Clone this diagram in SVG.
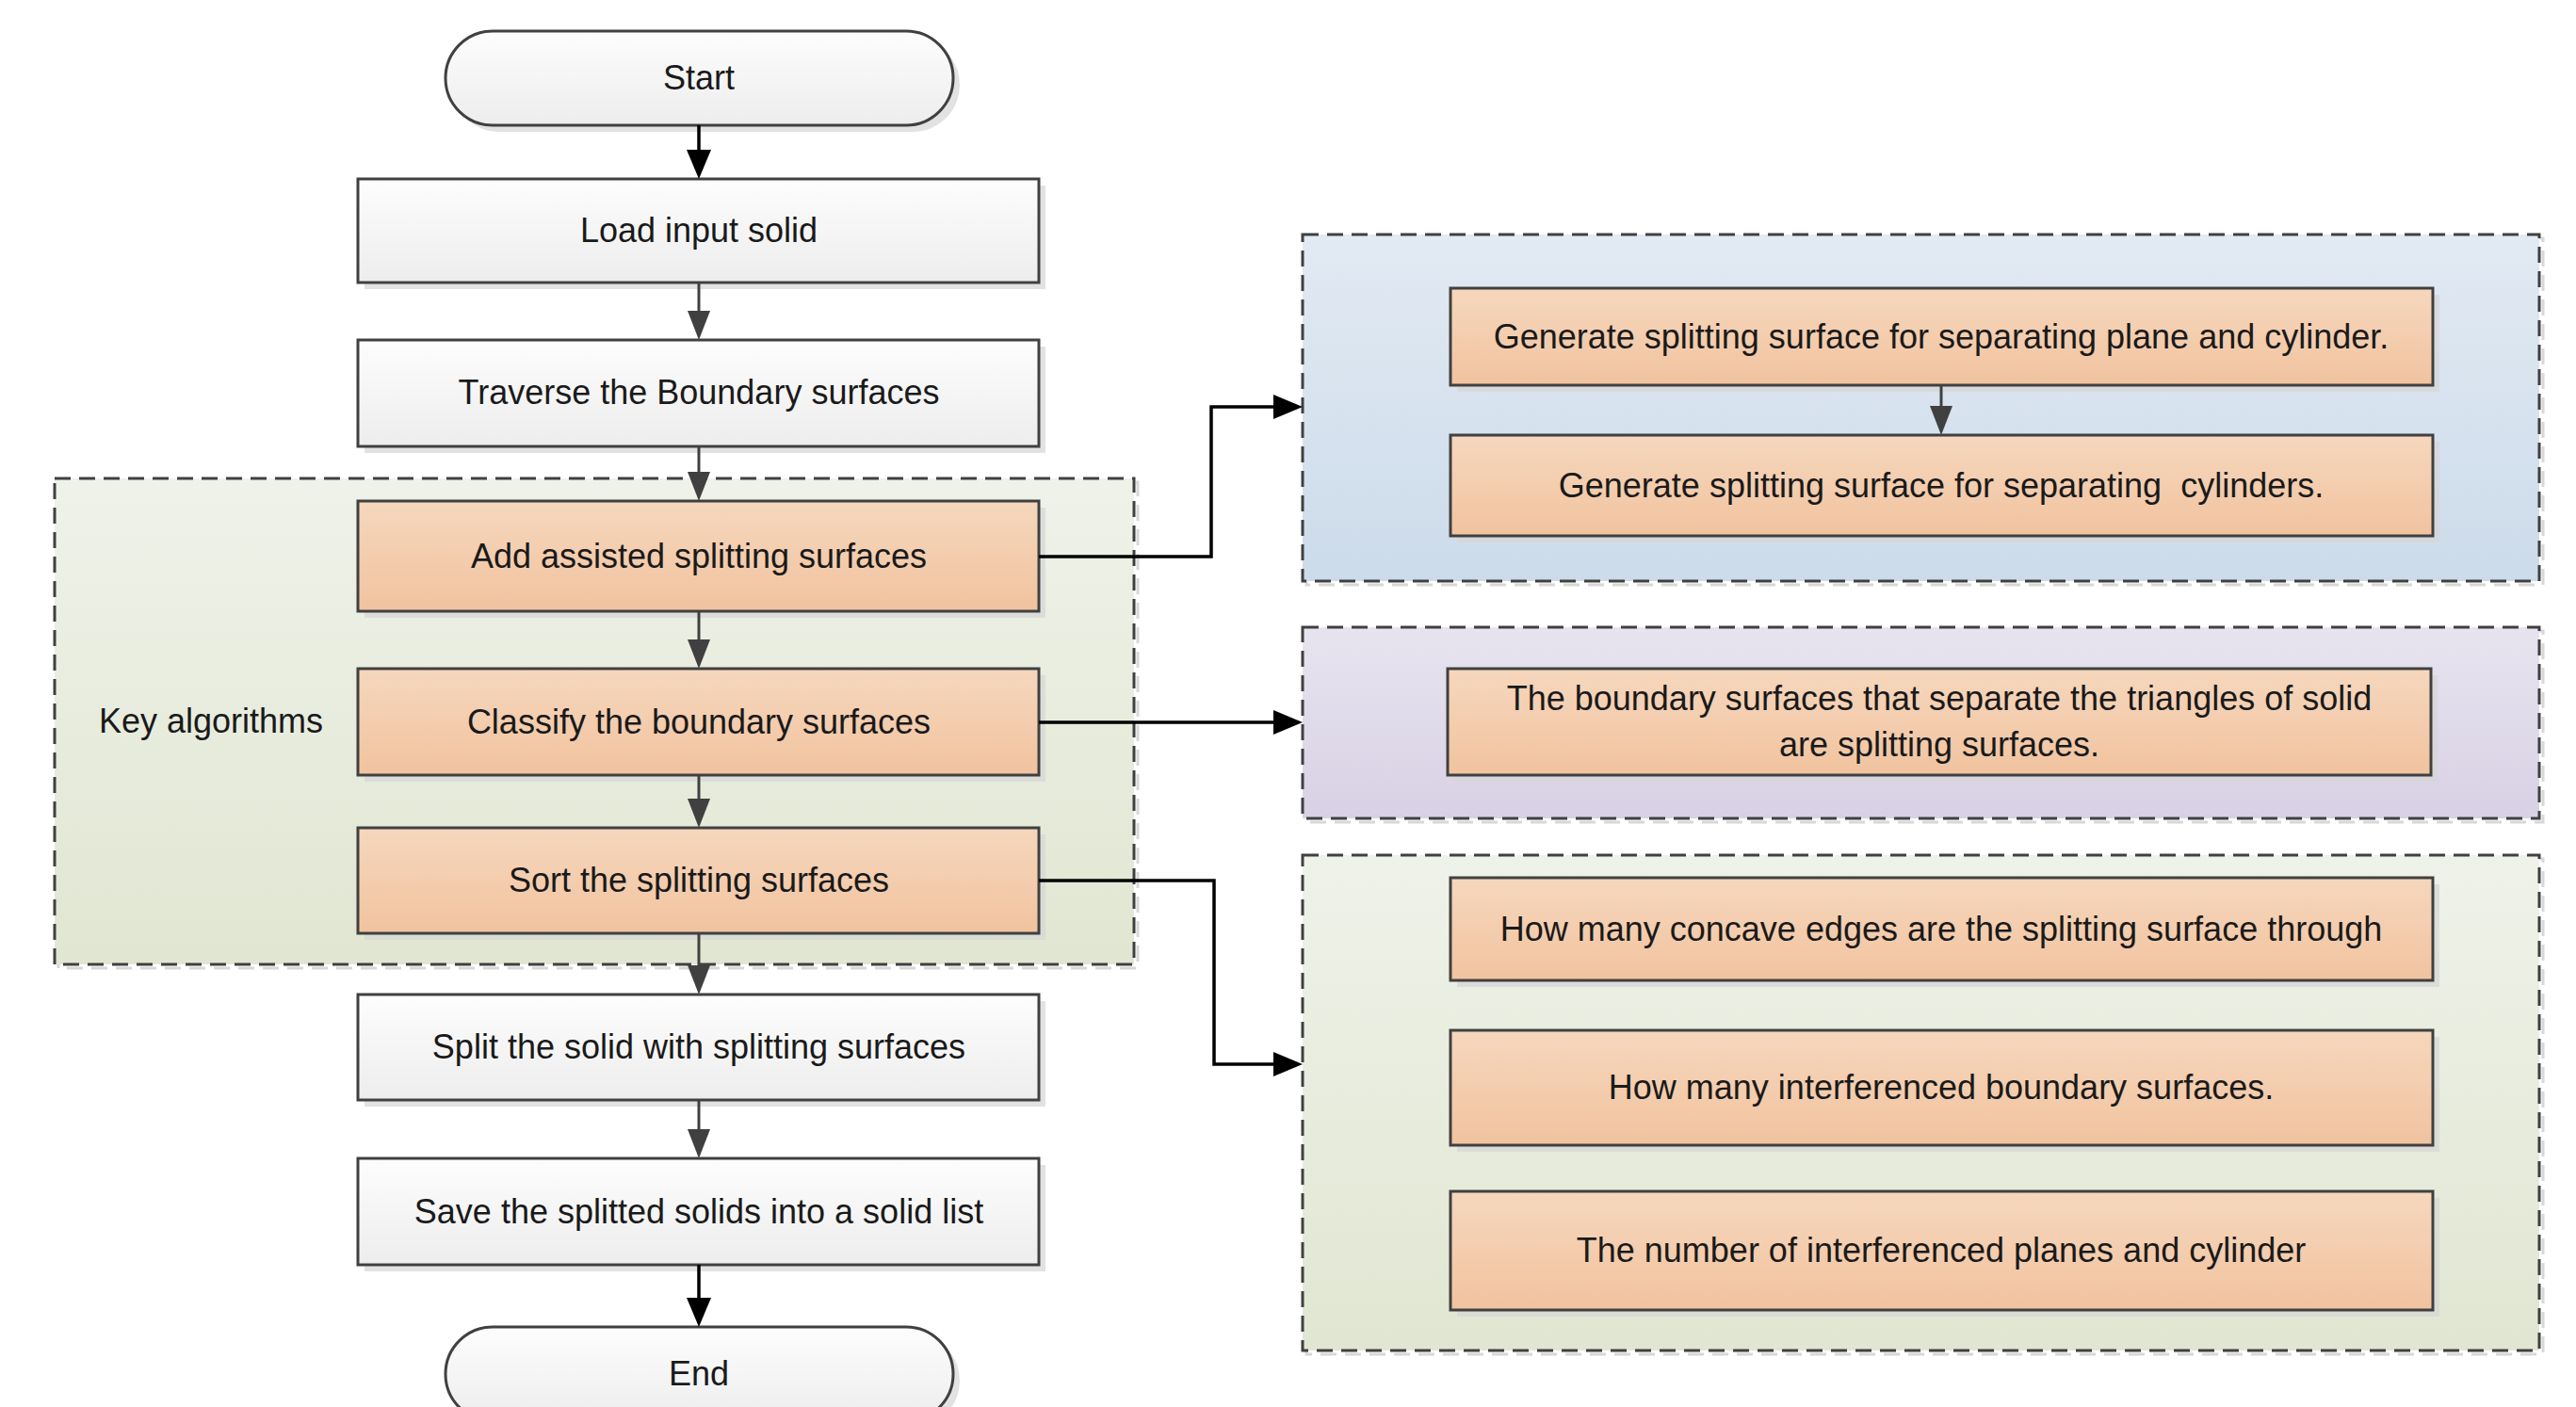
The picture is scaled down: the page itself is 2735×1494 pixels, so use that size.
<svg xmlns="http://www.w3.org/2000/svg" width="2735" height="1494" viewBox="0 0 2735 1494">
<defs>
<style>
text{font-family:"Liberation Sans",Arial,sans-serif;font-size:36px;fill:#1a1a1a;text-anchor:middle;white-space:pre}
.wbox{fill:url(#gw);stroke:#404040;stroke-width:3}
.obox{fill:url(#go);stroke:#404040;stroke-width:3}
.sh{fill:#d6d6d6;opacity:0.7}
.grp{stroke:#404040;stroke-width:3;stroke-dasharray:17 9}
.gsh{fill:none;stroke:#d8d8d8;stroke-width:3;stroke-dasharray:17 9}
.cg{fill:none;stroke:#404040;stroke-width:3}
.cb{fill:none;stroke:#000;stroke-width:3.5}
</style>
<linearGradient id="gw" x1="0" y1="0" x2="0" y2="1"><stop offset="0" stop-color="#fdfdfd"/><stop offset="1" stop-color="#ededed"/></linearGradient>
<linearGradient id="go" x1="0" y1="0" x2="0" y2="1"><stop offset="0" stop-color="#f6d7bd"/><stop offset="1" stop-color="#f1c39f"/></linearGradient>
<linearGradient id="gg" x1="0" y1="0" x2="0" y2="1"><stop offset="0" stop-color="#eff2e9"/><stop offset="1" stop-color="#e1e6d2"/></linearGradient>
<linearGradient id="gb" x1="0" y1="0" x2="0" y2="1"><stop offset="0" stop-color="#e2eaf3"/><stop offset="1" stop-color="#ccdbea"/></linearGradient>
<linearGradient id="gp" x1="0" y1="0" x2="0" y2="1"><stop offset="0" stop-color="#e7e4ef"/><stop offset="1" stop-color="#d8d1e5"/></linearGradient>
<marker id="ab" markerUnits="userSpaceOnUse" markerWidth="32" markerHeight="28" refX="25" refY="13" orient="auto"><path d="M0,0 L31,13 L0,26 z" fill="#000"/></marker>
<marker id="ag" markerUnits="userSpaceOnUse" markerWidth="32" markerHeight="28" refX="25" refY="12" orient="auto"><path d="M0,0 L31,12 L0,24 z" fill="#404040"/></marker>
</defs>

<g id="group-key">
<rect class="gsh" x="62" y="512" width="1146" height="516"/>
<rect class="grp" x="58" y="508" width="1146" height="516" fill="url(#gg)"/>
<text x="224" y="778">Key algorithms</text>
</g>
<g id="group-blue">
<rect class="gsh" x="1387" y="253" width="1313" height="368"/>
<rect class="grp" x="1383" y="249" width="1313" height="368" fill="url(#gb)"/>
</g>
<g id="group-purple">
<rect class="gsh" x="1387" y="670" width="1313" height="203"/>
<rect class="grp" x="1383" y="666" width="1313" height="203" fill="url(#gp)"/>
</g>
<g id="group-green">
<rect class="gsh" x="1387" y="912" width="1313" height="526"/>
<rect class="grp" x="1383" y="908" width="1313" height="526" fill="url(#gg)"/>
</g>

<g id="start">
<rect class="sh" x="480" y="40" width="539" height="100" rx="50"/>
<rect class="wbox" x="473" y="33" width="539" height="100" rx="50"/>
<text x="742" y="95">Start</text>
</g>
<g id="load">
<rect class="sh" x="387" y="197" width="723" height="110"/>
<rect class="wbox" x="380" y="190" width="723" height="110"/>
<text x="742" y="257">Load input solid</text>
</g>
<g id="traverse">
<rect class="sh" x="387" y="368" width="723" height="113"/>
<rect class="wbox" x="380" y="361" width="723" height="113"/>
<text x="742" y="429">Traverse the Boundary surfaces</text>
</g>
<g id="add">
<rect class="sh" x="387" y="539" width="723" height="117"/>
<rect class="obox" x="380" y="532" width="723" height="117"/>
<text x="742" y="603">Add assisted splitting surfaces</text>
</g>
<g id="classify">
<rect class="sh" x="387" y="717" width="723" height="113"/>
<rect class="obox" x="380" y="710" width="723" height="113"/>
<text x="742" y="779">Classify the boundary surfaces</text>
</g>
<g id="sort">
<rect class="sh" x="387" y="886" width="723" height="112"/>
<rect class="obox" x="380" y="879" width="723" height="112"/>
<text x="742" y="947">Sort the splitting surfaces</text>
</g>
<g id="split">
<rect class="sh" x="387" y="1063" width="723" height="112"/>
<rect class="wbox" x="380" y="1056" width="723" height="112"/>
<text x="742" y="1124">Split the solid with splitting surfaces</text>
</g>
<g id="save">
<rect class="sh" x="387" y="1237" width="723" height="113"/>
<rect class="wbox" x="380" y="1230" width="723" height="113"/>
<text x="742" y="1299">Save the splitted solids into a solid list</text>
</g>
<g id="end">
<rect class="sh" x="480" y="1416" width="539" height="100" rx="50"/>
<rect class="wbox" x="473" y="1409" width="539" height="100" rx="50"/>
<text x="742" y="1471">End</text>
</g>

<g id="gen1">
<rect class="sh" x="1547" y="313" width="1043" height="103"/>
<rect class="obox" x="1540" y="306" width="1043" height="103"/>
<text x="2061" y="370">Generate splitting surface for separating plane and cylinder.</text>
</g>
<g id="gen2">
<rect class="sh" x="1547" y="469" width="1043" height="107"/>
<rect class="obox" x="1540" y="462" width="1043" height="107"/>
<text x="2061" y="528">Generate splitting surface for separating  cylinders.</text>
</g>
<g id="boundary">
<rect class="sh" x="1544" y="717" width="1044" height="113"/>
<rect class="obox" x="1537" y="710" width="1044" height="113"/>
<text x="2059" y="754">The boundary surfaces that separate the triangles of solid</text>
<text x="2059" y="803">are splitting surfaces.</text>
</g>
<g id="concave">
<rect class="sh" x="1547" y="939" width="1043" height="109"/>
<rect class="obox" x="1540" y="932" width="1043" height="109"/>
<text x="2061" y="999">How many concave edges are the splitting surface through</text>
</g>
<g id="interf">
<rect class="sh" x="1547" y="1101" width="1043" height="122"/>
<rect class="obox" x="1540" y="1094" width="1043" height="122"/>
<text x="2061" y="1167">How many interferenced boundary surfaces.</text>
</g>
<g id="number">
<rect class="sh" x="1547" y="1272" width="1043" height="126"/>
<rect class="obox" x="1540" y="1265" width="1043" height="126"/>
<text x="2061" y="1340">The number of interferenced planes and cylinder</text>
</g>

<g id="connectors">
<line class="cb" x1="742" y1="133" x2="742" y2="184" marker-end="url(#ab)"/>
<line class="cg" x1="742" y1="300" x2="742" y2="355" marker-end="url(#ag)"/>
<line class="cg" x1="742" y1="474" x2="742" y2="526" marker-end="url(#ag)"/>
<line class="cg" x1="742" y1="649" x2="742" y2="704" marker-end="url(#ag)"/>
<line class="cg" x1="742" y1="823" x2="742" y2="873" marker-end="url(#ag)"/>
<line class="cg" x1="742" y1="991" x2="742" y2="1050" marker-end="url(#ag)"/>
<line class="cg" x1="742" y1="1168" x2="742" y2="1224" marker-end="url(#ag)"/>
<line class="cb" x1="742" y1="1343" x2="742" y2="1403" marker-end="url(#ab)"/>
<line class="cg" x1="2061" y1="409" x2="2061" y2="456" marker-end="url(#ag)"/>
<polyline class="cb" points="1103,591 1286,591 1286,432 1377,432" marker-end="url(#ab)"/>
<line class="cb" x1="1103" y1="767" x2="1377" y2="767" marker-end="url(#ab)"/>
<polyline class="cb" points="1103,935 1289,935 1289,1130 1377,1130" marker-end="url(#ab)"/>
</g>
</svg>
